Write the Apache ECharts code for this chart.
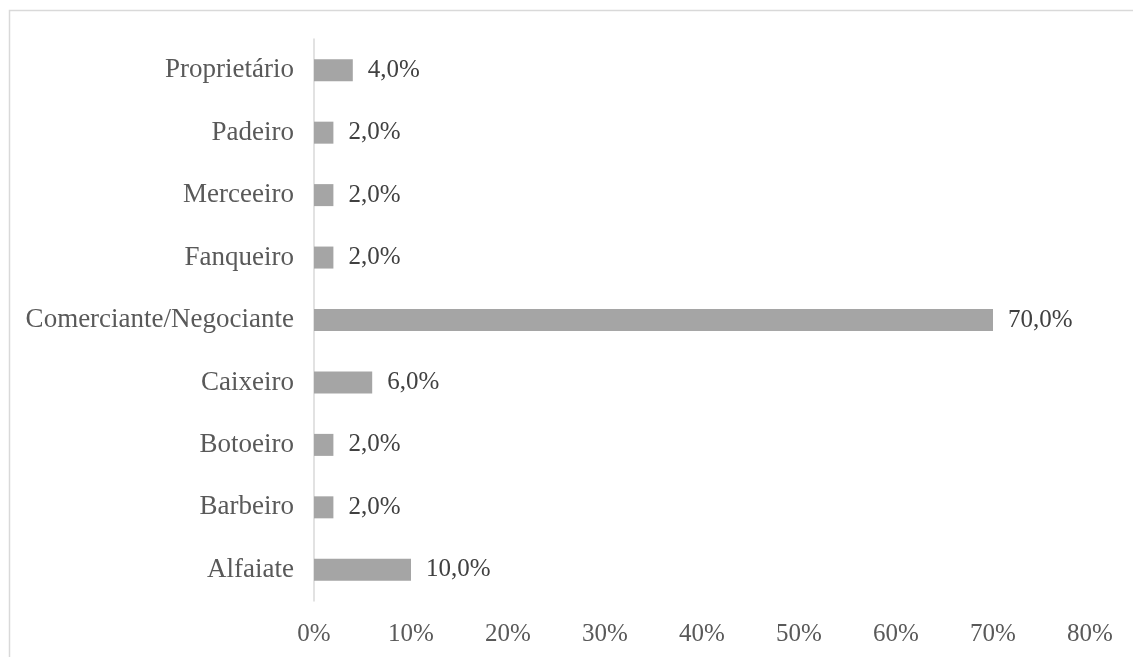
<!DOCTYPE html>
<html>
<head>
<meta charset="utf-8">
<script src="https://cdn.jsdelivr.net/npm/echarts@6/dist/echarts.min.js"></script>
<style>
html,body{margin:0;padding:0;background:#fff;}
#chart{width:1133px;height:657px;}
</style>
</head>
<body>
<div id="chart"></div>
<script>
const categories = ['Alfaiate','Barbeiro','Botoeiro','Caixeiro','Comerciante/Negociante','Fanqueiro','Merceeiro','Padeiro','Proprietário'];
const values = [10.0, 2.0, 2.0, 6.0, 70.0, 2.0, 2.0, 2.0, 4.0];
const xTicks = [0,10,20,30,40,50,60,70,80];

const font = '"Liberation Serif", "Times New Roman", serif';
const chart = echarts.init(document.getElementById('chart'));
chart.setOption({
  animation: false,
  backgroundColor: '#fff',
  graphic: [{
    type: 'rect', left: 7, top: 8, silent: true,
    shape: {width: 1200, height: 700},
    style: {fill: 'none', stroke: '#d9d9d9', lineWidth: 1.5}
  }],
  grid: {left: 314, right: 43, top: 39, bottom: 56, containLabel: false},
  xAxis: {
    type: 'value', min: xTicks[0], max: xTicks[xTicks.length-1], interval: 10,
    axisLine: {show: false}, axisTick: {show: false}, splitLine: {show: false},
    axisLabel: {formatter: v => v + '%', color: '#595959', fontFamily: font, fontSize: 25, margin: 21}
  },
  yAxis: {
    type: 'category', data: categories,
    axisLine: {show: true, lineStyle: {color: '#d9d9d9', width: 1.5}},
    axisTick: {show: false},
    axisLabel: {color: '#595959', fontFamily: font, fontSize: 27, margin: 20, padding: [4, 0, 0, 0]}
  },
  series: [{
    type: 'bar', data: values, barWidth: 22,
    itemStyle: {color: '#a5a5a5'},
    label: {show: true, position: 'right', distance: 15, color: '#404040', fontFamily: font, fontSize: 25,
      padding: [4, 0, 0, 0],
      formatter: p => p.value.toFixed(1).replace('.', ',') + '%'}
  }]
});
</script>
</body>
</html>
